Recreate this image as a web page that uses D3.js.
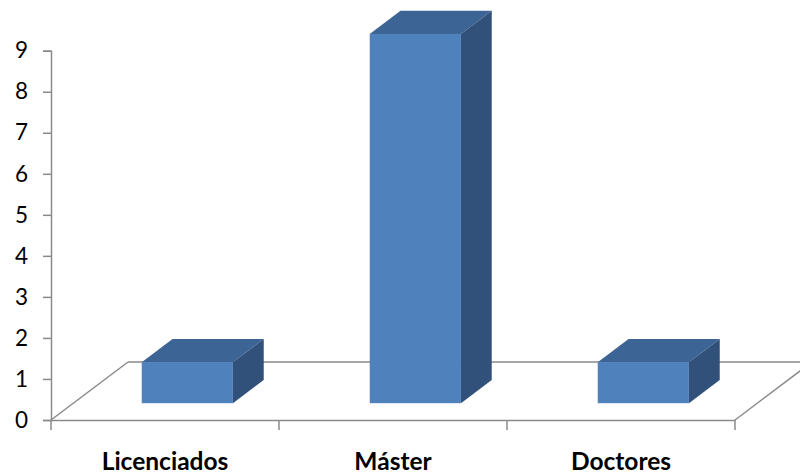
<!DOCTYPE html>
<html>
<head>
<meta charset="utf-8">
<script src="https://cdn.jsdelivr.net/npm/d3@7"></script>
<style>
  body { margin: 0; background: #fff; }
</style>
</head>
<body>
<div id="chart"></div>
<script>
var categories = ["Licenciados", "Máster", "Doctores"];
var values = [1, 9, 1];
var yTicks = [0, 1, 2, 3, 4, 5, 6, 7, 8, 9];

var width = 800, height = 476;
var left = 51, right = 735, floorY = 420, topY = 50.7;
// depth of the floor in screen space
var depthX = 77, depthY = 58;
// bars sit between these floor depths
var z0 = 0.29, z1 = 0.69;

var svg = d3.select("#chart")
    .append("svg")
    .attr("width", width)
    .attr("height", height);

var x = d3.scaleBand()
    .domain(categories)
    .range([left, right])
    .paddingInner(0.6)
    .paddingOuter(0.3);

var y = d3.scaleLinear()
    .domain([0, 9])
    .range([floorY, topY]);

function px(sx, z) { return sx + z * depthX; }
function py(sy, z) { return sy - z * depthY; }

var grey = "#8a8a8a";

// floor outline
var floor = svg.append("g").attr("fill", "none").attr("stroke", grey).attr("stroke-width", 1.5);
floor.append("line")
    .attr("x1", px(left, 1)).attr("y1", py(floorY, 1))
    .attr("x2", px(right, 1)).attr("y2", py(floorY, 1));
floor.append("line")
    .attr("x1", left).attr("y1", floorY)
    .attr("x2", px(left, 1)).attr("y2", py(floorY, 1));
floor.append("line")
    .attr("x1", right).attr("y1", floorY)
    .attr("x2", px(right, 1)).attr("y2", py(floorY, 1));

// y axis
var yAxis = svg.append("g")
    .attr("transform", "translate(" + left + ",0)")
    .call(d3.axisLeft(y).tickValues(yTicks).tickSize(8).tickPadding(15));
yAxis.selectAll("path, line").attr("stroke", grey).attr("stroke-width", 1.5);
yAxis.selectAll("text")
    .attr("font-family", "Lato, 'Open Sans', sans-serif")
    .attr("font-size", 22.5)
    .attr("fill", "#000");

// x axis (front floor edge)
var xAxis = svg.append("g")
    .attr("transform", "translate(0," + floorY + ")")
    .call(d3.axisBottom(x).tickSize(0).tickPadding(33));
xAxis.select("path").attr("stroke", grey).attr("stroke-width", 1.5);
xAxis.selectAll("text")
    .attr("font-family", "Lato, 'Open Sans', sans-serif")
    .attr("font-weight", "bold")
    .attr("font-size", 24.5)
    .attr("fill", "#000");

var bounds = d3.range(categories.length + 1).map(function(i) {
    return left + i * x.step();
});
svg.append("g").selectAll("line")
    .data(bounds)
    .enter()
    .append("line")
    .attr("x1", function(d) { return d; })
    .attr("x2", function(d) { return d; })
    .attr("y1", floorY)
    .attr("y2", floorY + 10)
    .attr("stroke", grey)
    .attr("stroke-width", 1.5);

// bars
var bar = svg.append("g").selectAll("g")
    .data(categories.map(function(c, i) { return {cat: c, v: values[i]}; }))
    .enter()
    .append("g");

function pts(a) {
    return a.map(function(p) { return p.join(","); }).join(" ");
}

bar.each(function(d) {
    var g = d3.select(this);
    var fx0 = px(x(d.cat), z0), fx1 = px(x(d.cat) + x.bandwidth(), z0);
    var fyb = py(y(0), z0), fyt = py(y(d.v), z0);
    var ddx = (z1 - z0) * depthX, ddy = (z1 - z0) * depthY;

    g.append("polygon")
        .attr("points", pts([[fx0, fyt], [fx1, fyt], [fx1 + ddx, fyt - ddy], [fx0 + ddx, fyt - ddy]]))
        .attr("fill", "#3c6494");
    g.append("polygon")
        .attr("points", pts([[fx1, fyt], [fx1 + ddx, fyt - ddy], [fx1 + ddx, fyb - ddy], [fx1, fyb]]))
        .attr("fill", "#31517b");
    g.append("rect")
        .attr("x", fx0)
        .attr("y", fyt)
        .attr("width", fx1 - fx0)
        .attr("height", fyb - fyt)
        .attr("fill", "#4f81bd");
});
</script>
</body>
</html>
